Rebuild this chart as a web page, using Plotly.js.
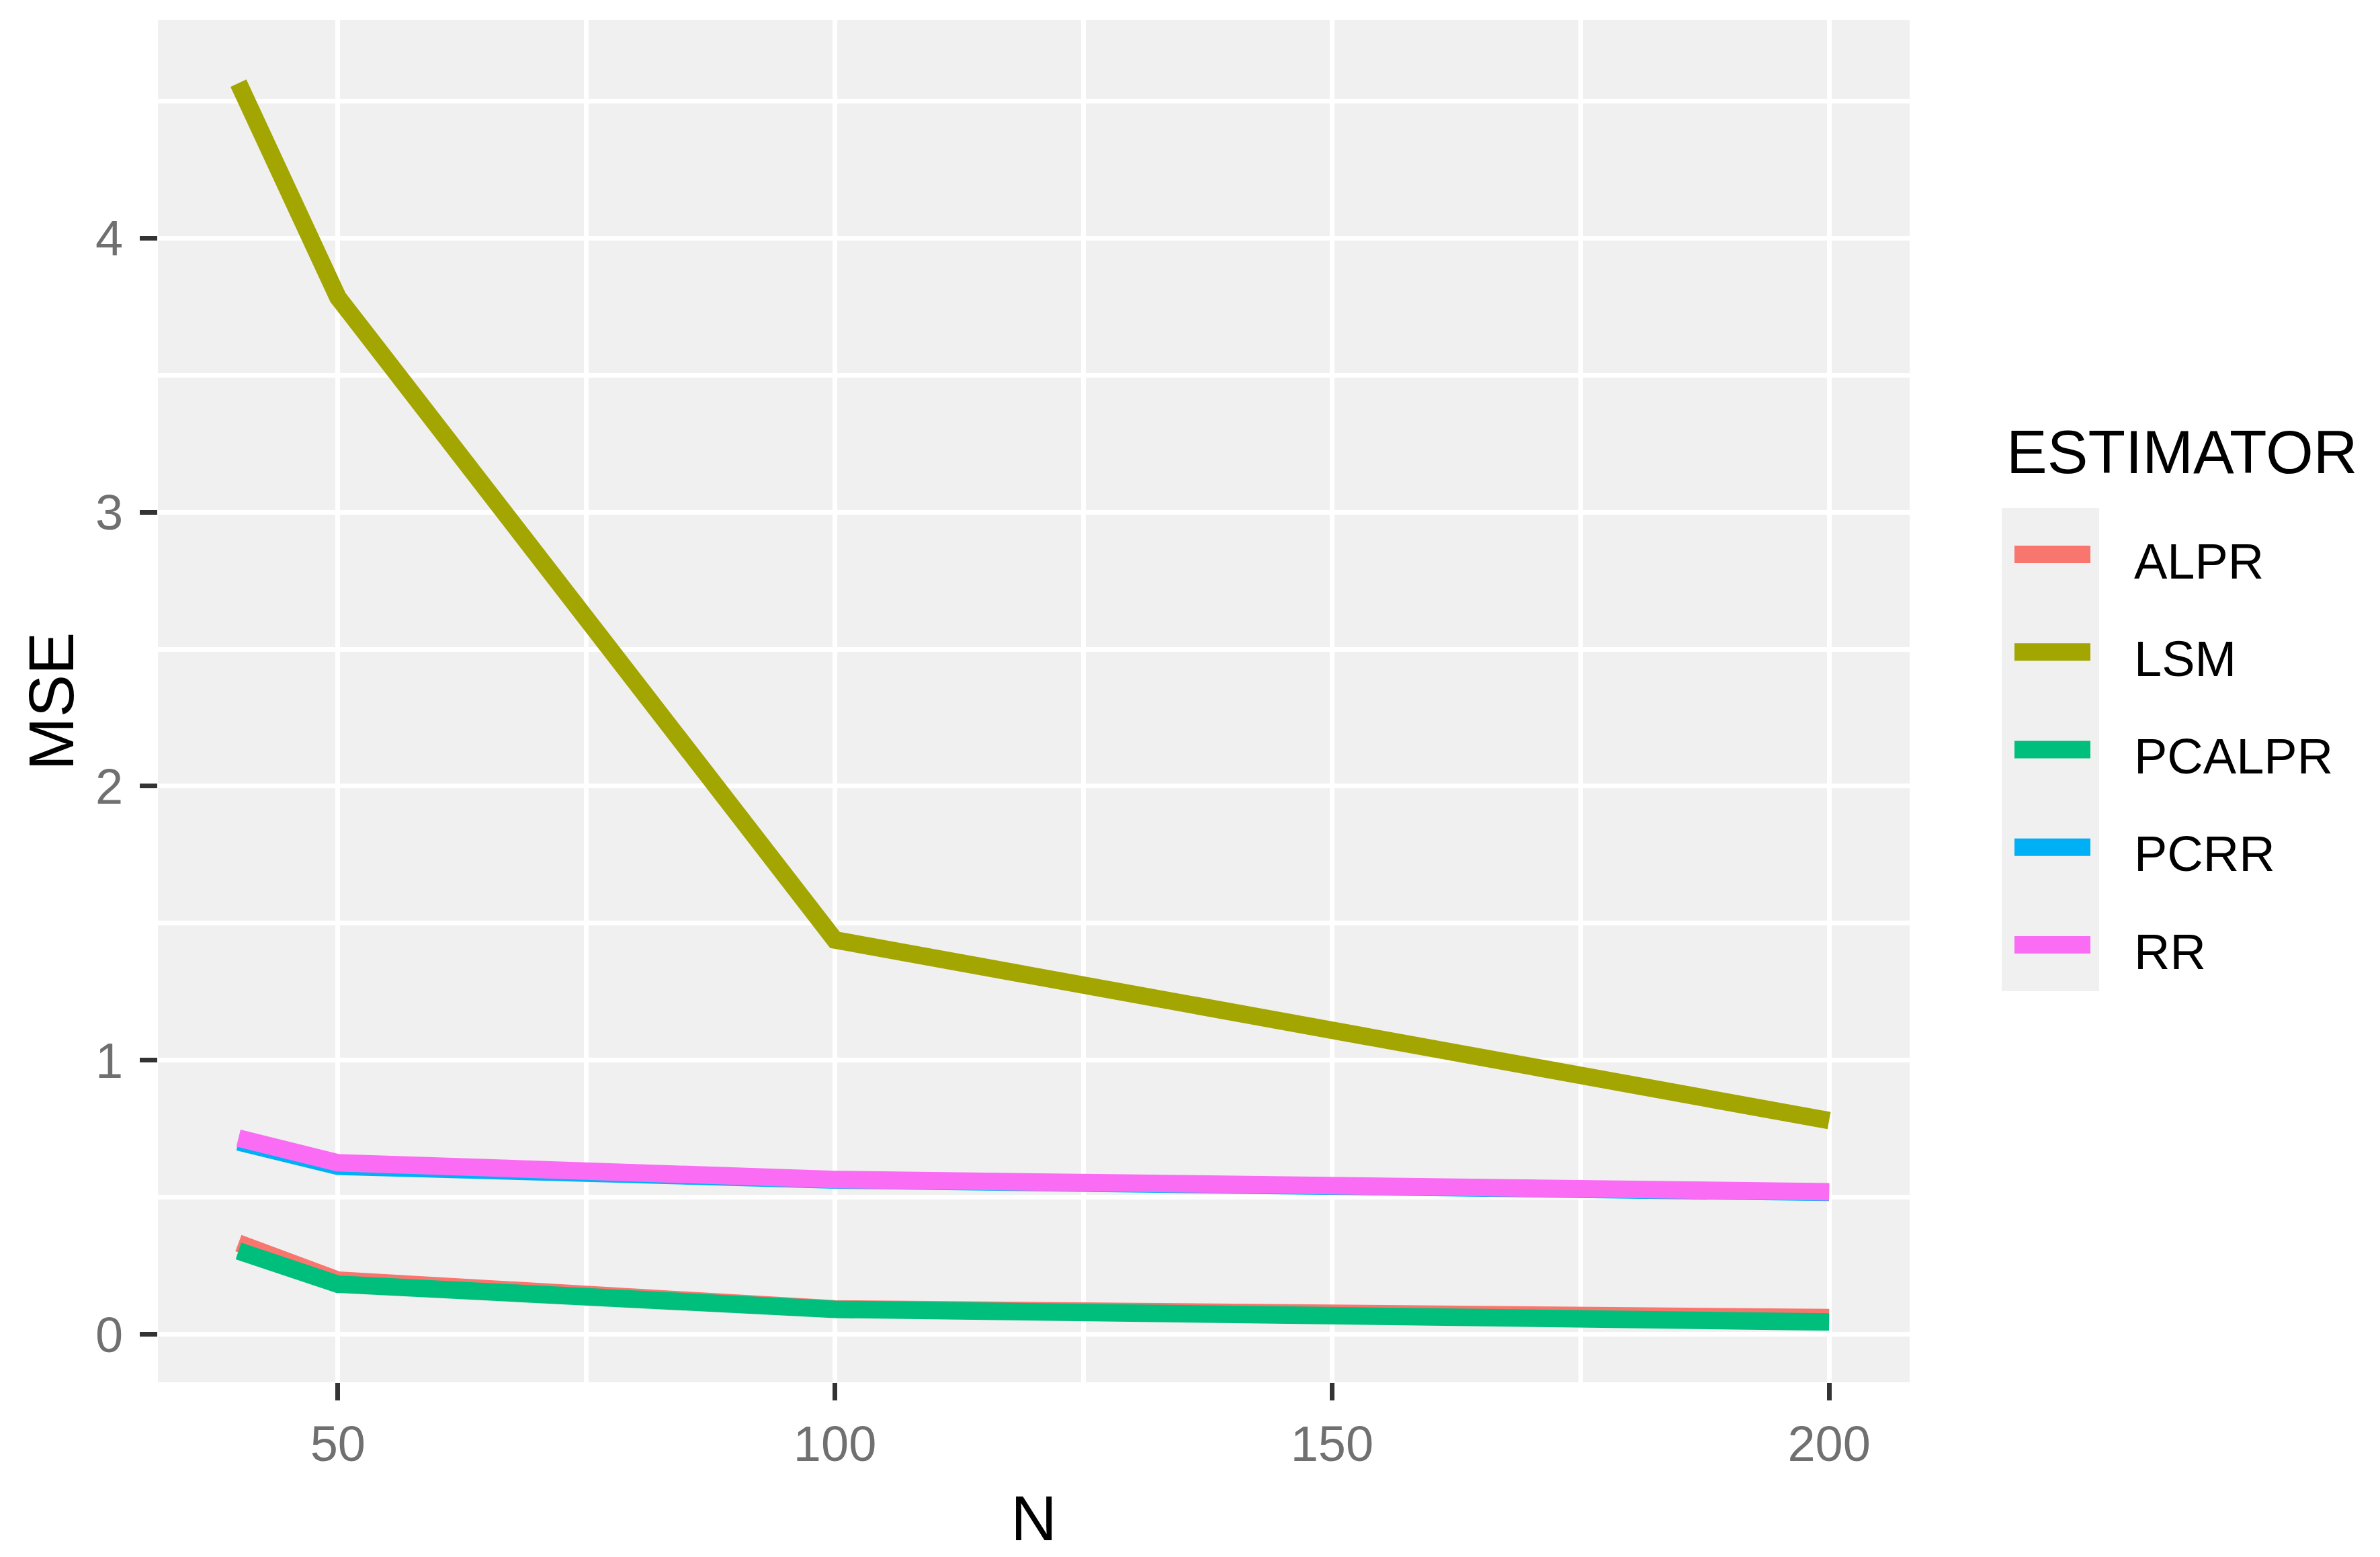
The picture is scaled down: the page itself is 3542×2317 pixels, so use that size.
<!DOCTYPE html>
<html>
<head>
<meta charset="utf-8">
<script src="https://cdn.plot.ly/plotly-3.0.1.min.js"></script>
<style>html,body{margin:0;padding:0;background:#fff;}#chart{width:3542px;height:2317px;}</style>
</head>
<body>
<div id="chart"></div>
<script>
// Data
const N = [40, 50, 100, 200];
const estimators = ["ALPR", "LSM", "PCALPR", "PCRR", "RR"];
const ALPR   = [0.333, 0.198, 0.093, 0.061];
const LSM    = [4.565, 3.784, 1.439, 0.780];
const PCALPR = [0.304, 0.183, 0.091, 0.045];
const PCRR   = [0.702, 0.613, 0.563, 0.518];
const RR     = [0.716, 0.626, 0.565, 0.520];
const xTicks = [50, 100, 150, 200];
const yTicks = [0, 1, 2, 3, 4];
const legendTitle = "ESTIMATOR";

const series = [ALPR, LSM, PCALPR, PCRR, RR];
const colors = ["#F8766D", "#A3A500", "#00BF7D", "#00B0F6", "#FB6CF4"];
const FONT = "Liberation Sans, Arial, sans-serif";

const traces = estimators.map((name, i) => ({
  type: "scatter",
  mode: "lines",
  name: name,
  x: N,
  y: series[i],
  line: {color: colors[i], width: 26},
  hoverinfo: "skip",
  showlegend: false
}));

// Plot area geometry (pixels) used to place the hand-built legend in paper coordinates
const W = 3542, H = 2317;
const M = {l: 235, r: 700, t: 30, b: 260};
const PW = W - M.l - M.r, PH = H - M.t - M.b;
const px = x => (x - M.l) / PW;
const py = y => (H - M.b - y) / PH;

// Legend geometry
const keyX0 = 2979, keyX1 = 3124, keyY0 = 756, keyY1 = 1475;
const lineX0 = 2998, lineX1 = 3111;
const rowY0 = 825, rowStep = 145.25, lineThick = 26;
const labelX = 3174;

const shapes = [{
  type: "rect", xref: "paper", yref: "paper", layer: "above",
  x0: px(keyX0), x1: px(keyX1), y0: py(keyY1), y1: py(keyY0),
  fillcolor: "#F0F0F0", line: {width: 0}
}];
const annotations = [{
  xref: "paper", yref: "paper", x: px(2984), y: py(672),
  xanchor: "left", yanchor: "middle", showarrow: false,
  text: legendTitle, font: {family: FONT, size: 91, color: "#000"}
}];
estimators.forEach((name, i) => {
  const cy = rowY0 + i * rowStep;
  shapes.push({
    type: "rect", xref: "paper", yref: "paper", layer: "above",
    x0: px(lineX0), x1: px(lineX1),
    y0: py(cy + lineThick / 2), y1: py(cy - lineThick / 2),
    fillcolor: colors[i], line: {width: 0}
  });
  annotations.push({
    xref: "paper", yref: "paper", x: px(labelX), y: py(cy + 10),
    xanchor: "left", yanchor: "middle", showarrow: false,
    text: name, font: {family: FONT, size: 74, color: "#000"}
  });
});

const layout = {
  width: W,
  height: H,
  paper_bgcolor: "#ffffff",
  plot_bgcolor: "#F0F0F0",
  margin: {l: M.l, r: M.r, t: M.t, b: M.b, pad: 0},
  font: {family: FONT, color: "#000"},
  showlegend: false,
  xaxis: {
    range: [31.9, 208.1],
    tickvals: xTicks,
    ticktext: xTicks.map(String),
    showgrid: true, gridcolor: "#ffffff", gridwidth: 7,
    minor: {dtick: 25, tick0: 0, showgrid: true, gridcolor: "#ffffff", gridwidth: 7, ticklen: 0},
    zeroline: false,
    showline: false,
    ticks: "outside", ticklen: 26, tickwidth: 7, tickcolor: "#333333",
    tickfont: {family: FONT, size: 74, color: "#707070"},
    ticklabelstandoff: 1,
    title: {text: "N", font: {family: FONT, size: 95, color: "#000"}, standoff: 36}
  },
  yaxis: {
    range: [-0.175, 4.795],
    tickvals: yTicks,
    ticktext: yTicks.map(String),
    showgrid: true, gridcolor: "#ffffff", gridwidth: 7,
    minor: {dtick: 0.5, tick0: 0, showgrid: true, gridcolor: "#ffffff", gridwidth: 7, ticklen: 0},
    zeroline: false,
    showline: false,
    ticks: "outside", ticklen: 26, tickwidth: 7, tickcolor: "#333333",
    tickfont: {family: FONT, size: 74, color: "#707070"},
    ticklabelstandoff: 10,
    title: {text: "MSE", font: {family: FONT, size: 95, color: "#000"}, standoff: 0}
  },
  shapes: shapes,
  annotations: annotations
};

Plotly.newPlot("chart", traces, layout, {staticPlot: true, displayModeBar: false});
</script>
</body>
</html>
